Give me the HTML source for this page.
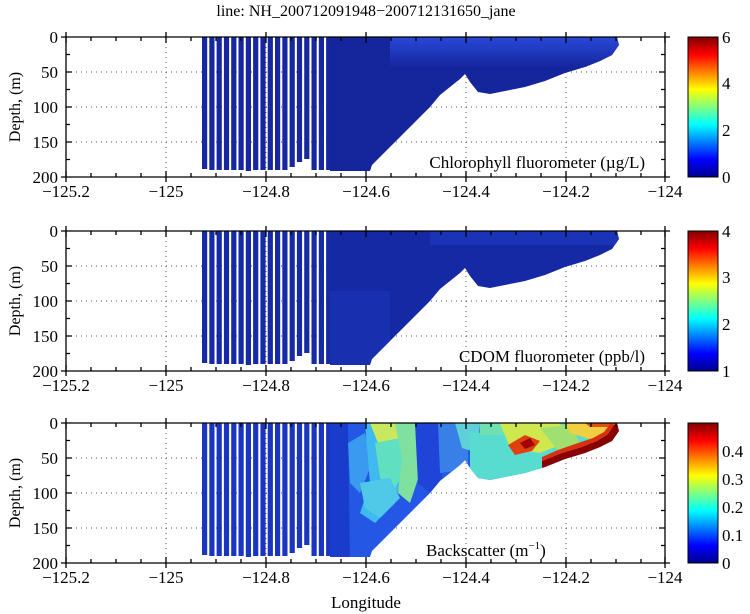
<!DOCTYPE html>
<html><head><meta charset="utf-8"><style>
html,body{margin:0;padding:0;background:#fff;width:750px;height:614px;overflow:hidden}
svg text{font-family:"Liberation Serif",serif;fill:#000}
</style></head><body>
<svg width="750" height="614" viewBox="0 0 750 614" xmlns="http://www.w3.org/2000/svg">
<defs>
<linearGradient id="jet" x1="0" y1="1" x2="0" y2="0">
<stop offset="0" stop-color="#00008f"/><stop offset="0.125" stop-color="#0000ff"/>
<stop offset="0.375" stop-color="#00ffff"/><stop offset="0.625" stop-color="#ffff00"/>
<stop offset="0.875" stop-color="#ff0000"/><stop offset="1" stop-color="#800000"/>
</linearGradient>
<linearGradient id="p1top" x1="0" y1="0" x2="0" y2="1">
<stop offset="0" stop-color="#2848d8"/><stop offset="1" stop-color="#16269e"/>
</linearGradient>
<clipPath id="shape"><path d="M330,0 L617,0 L619,8 L612,18 L600,24 L585,30 L565,36 L545,44 L525,50 L505,54 L490,57 L478,55 L470,45 L465,37 L460,42 L450,50 L440,58 L430,70 L415,85 L400,100 L385,115 L372,128 L370,134 L330,134 Z"/></clipPath>
<g id="stripes">
<rect x="202" y="0" width="5.2" height="132"/><rect x="209.3" y="0" width="5.2" height="133"/><rect x="216.6" y="0" width="5.2" height="133"/><rect x="223.9" y="0" width="5.2" height="133"/><rect x="231.2" y="0" width="5.2" height="133"/><rect x="238.5" y="0" width="5.2" height="133"/><rect x="245.8" y="0" width="5.2" height="134"/><rect x="253.1" y="0" width="5.2" height="133"/><rect x="260.4" y="0" width="5.2" height="133"/><rect x="267.7" y="0" width="5.2" height="133"/><rect x="275" y="0" width="5.2" height="133"/><rect x="282.3" y="0" width="5.2" height="133"/><rect x="289.6" y="0" width="5.2" height="130"/><rect x="296.9" y="0" width="5.2" height="125"/><rect x="304.2" y="0" width="5.2" height="122"/><rect x="311.5" y="0" width="5.2" height="133"/><rect x="318.8" y="0" width="5.2" height="133"/><rect x="326.1" y="0" width="5.2" height="133"/>
</g>
<g id="grid" stroke="#555" stroke-width="1" stroke-dasharray="1,4">
<line x1="166" y1="0" x2="166" y2="140"/><line x1="266" y1="0" x2="266" y2="140"/><line x1="366" y1="0" x2="366" y2="140"/><line x1="466" y1="0" x2="466" y2="140"/><line x1="566" y1="0" x2="566" y2="140"/>
<line x1="66" y1="35" x2="665" y2="35"/><line x1="66" y1="70" x2="665" y2="70"/><line x1="66" y1="105" x2="665" y2="105"/>
</g>
<g id="axes" stroke="#000" stroke-width="1.3" fill="none">
<line x1="66" y1="0" x2="665" y2="0"/><line x1="66" y1="140" x2="665" y2="140"/>
<line x1="66" y1="0" x2="66" y2="140"/><line x1="665" y1="0" x2="665" y2="140"/>
<path d="M66,0v6M91,0v4M116,0v4M141,0v4M166,0v6M191,0v4M216,0v4M241,0v4M266,0v6M291,0v4M316,0v4M341,0v4M366,0v6M391,0v4M416,0v4M441,0v4M466,0v6M491,0v4M516,0v4M541,0v4M566,0v6M591,0v4M616,0v4M641,0v4M665,0v6"/>
<path d="M66,140v-6M91,140v-4M116,140v-4M141,140v-4M166,140v-6M191,140v-4M216,140v-4M241,140v-4M266,140v-6M291,140v-4M316,140v-4M341,140v-4M366,140v-6M391,140v-4M416,140v-4M441,140v-4M466,140v-6M491,140v-4M516,140v-4M541,140v-4M566,140v-6M591,140v-4M616,140v-4M641,140v-4M665,140v-6"/>
<path d="M66,17.5h4M66,35h6M66,52.5h4M66,70h6M66,87.5h4M66,105h6M66,122.5h4"/>
<path d="M665,17.5h-4M665,35h-6M665,52.5h-4M665,70h-6M665,87.5h-4M665,105h-6M665,122.5h-4"/>
<path d="M66,0h-5M66,140h-5M665,0h5M665,140h5M66,140v5M166,140v5M266,140v5M366,140v5M466,140v5M566,140v5M665,140v5M66,0v-5M166,0v-5M266,0v-5M366,0v-5M466,0v-5M566,0v-5M665,0v-5"/>
</g>
<g id="labels" font-size="17">
<text x="58" y="6" text-anchor="end">0</text><text x="58" y="41" text-anchor="end">50</text><text x="58" y="76" text-anchor="end">100</text><text x="58" y="111" text-anchor="end">150</text><text x="58" y="146" text-anchor="end">200</text>
<text x="66" y="160" text-anchor="middle">−125.2</text><text x="166" y="160" text-anchor="middle">−125</text><text x="266" y="160" text-anchor="middle">−124.8</text><text x="366" y="160" text-anchor="middle">−124.6</text><text x="466" y="160" text-anchor="middle">−124.4</text><text x="566" y="160" text-anchor="middle">−124.2</text><text x="665" y="160" text-anchor="middle">−124</text>
<text transform="translate(20,70) rotate(-90)" text-anchor="middle" font-size="16">Depth, (m)</text>
</g>
</defs>

<text x="366" y="16" text-anchor="middle" font-size="16">line: NH_200712091948−200712131650_jane</text>

<!-- Panel 1 -->
<g transform="translate(0,37)">
<use href="#grid"/>
<g fill="#16279f"><use href="#stripes"/></g>
<g clip-path="url(#shape)">
<rect x="330" y="0" width="300" height="140" fill="#15259c"/>
<rect x="390" y="0" width="240" height="30" fill="url(#p1top)"/>
</g>
<use href="#axes"/>
<use href="#labels"/>
<text x="645" y="131" text-anchor="end" font-size="17">Chlorophyll fluorometer (µg/L)</text>
<rect x="688" y="0" width="30" height="140" fill="url(#jet)" stroke="#000"/>
<g font-size="17"><text x="722" y="6">6</text><text x="722" y="52">4</text><text x="722" y="99">2</text><text x="722" y="146">0</text></g>
</g>

<!-- Panel 2 -->
<g transform="translate(0,231)">
<use href="#grid"/>
<g fill="#172aa6"><use href="#stripes"/></g>
<g clip-path="url(#shape)">
<rect x="330" y="0" width="300" height="140" fill="#1629a4"/>
<rect x="330" y="60" width="60" height="80" fill="#1b33b8" opacity="0.6"/>
<rect x="430" y="0" width="190" height="14" fill="#1c36bc" opacity="0.8"/>
</g>
<use href="#axes"/>
<use href="#labels"/>
<text x="645" y="131" text-anchor="end" font-size="17">CDOM fluorometer (ppb/l)</text>
<rect x="688" y="0" width="30" height="140" fill="url(#jet)" stroke="#000"/>
<g font-size="17"><text x="722" y="6">4</text><text x="722" y="52">3</text><text x="722" y="99">2</text><text x="722" y="146">1</text></g>
</g>

<!-- Panel 3 -->
<g transform="translate(0,423)">
<use href="#grid"/>
<g fill="#1a36c0"><use href="#stripes"/></g>
<g clip-path="url(#shape)">
<rect x="330" y="0" width="300" height="140" fill="#2458e4"/>
<polygon points="330,0 348,0 350,140 330,140" fill="#1a3ccc"/>
<polygon points="348,20 365,10 372,40 360,70 350,60" fill="#3a9af0"/>
<polygon points="365,0 400,0 405,40 395,80 375,100 360,90 370,60" fill="#40b8f0"/>
<polygon points="370,0 400,0 402,20 380,25" fill="#c8e860"/>
<polygon points="375,20 400,15 410,40 395,65 380,55" fill="#60e0c0"/>
<polygon points="360,60 390,55 400,75 380,95 365,85" fill="#50c8e8"/>
<polygon points="395,0 418,0 420,50 410,80 398,70 402,35" fill="#80e0a0"/>
<polygon points="415,0 440,0 442,55 430,70 418,60" fill="#1e44d8"/>
<polygon points="438,0 468,0 468,40 455,48 440,50" fill="#3880e8"/>
<polygon points="455,0 480,0 478,30 462,25" fill="#60d0d8"/>
<polygon points="470,10 630,10 630,60 470,60" fill="#58dcd0"/>
<polygon points="480,0 630,0 630,12 480,12" fill="#70e0b0"/>
<polygon points="500,0 560,0 565,20 540,30 510,25" fill="#d0e850"/>
<polygon points="540,5 570,2 580,20 560,30" fill="#a0e070"/>
<polygon points="508,22 525,12 540,18 532,28 515,32" fill="#e04010"/>
<polygon points="520,20 530,15 535,22 525,26" fill="#a00000"/>
<polygon points="565,0 618,0 612,12 590,16 570,10" fill="#f0d040"/>
<polygon points="585,0 618,0 615,4 590,4" fill="#e05010"/>
<polygon points="542,47 542,38 562,30 582,24 597,18 608,11 614,2 622,0 630,20 630,60 542,60" fill="#8a0000"/>
<polygon points="542,38 562,30 582,24 597,18 608,11 614,2 611,0 604,9 593,15 578,20 558,27 542,34" fill="#d83010"/>
</g>
<use href="#axes"/>
<use href="#labels"/>
<text x="426" y="133" font-size="17">Backscatter (m<tspan font-size="11" dy="-7">−1</tspan><tspan dy="7">)</tspan></text>
<rect x="688" y="0" width="30" height="140" fill="url(#jet)" stroke="#000"/>
<g font-size="17"><text x="722" y="34">0.4</text><text x="722" y="62">0.3</text><text x="722" y="90">0.2</text><text x="722" y="118">0.1</text><text x="722" y="146">0</text></g>
</g>

<text x="366" y="608" text-anchor="middle" font-size="17">Longitude</text>
</svg>
</body></html>
